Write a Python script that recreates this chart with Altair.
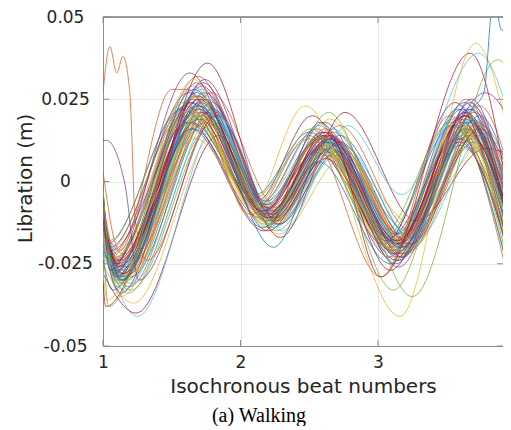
import altair as alt
import pandas as pd

# ---------------- data ----------------
palette = ["#0072BD", "#D95319", "#EDB120", "#7E2F8E", "#77AC30", "#4DBEEE", "#A2142F"]

x_start = 1.0
x_end = 3.97

y_start = [-0.010, -0.005, -0.015, -0.008, -0.020, -0.012, -0.003, -0.018, -0.007, -0.025,
           -0.011, -0.002, -0.016, -0.009, -0.022, -0.006, -0.013, -0.004, -0.019, -0.010,
           -0.014, -0.001, -0.017, -0.008, -0.021, -0.012, -0.006, -0.028, -0.011, -0.015,
           -0.003, -0.018, -0.009, -0.013, -0.030, -0.007, -0.016, -0.010, -0.004, -0.020,
           -0.012, -0.008, -0.014, -0.009, -0.017, -0.006, -0.013, -0.011, -0.010,
           -0.024, -0.016, -0.006, -0.019, -0.002, -0.023, -0.011, -0.008, -0.014, -0.027,
           -0.012, -0.005, -0.018, -0.009]

x_t1 = [1.10, 1.08, 1.14, 1.06, 1.18, 1.12, 1.05, 1.16, 1.09, 1.22,
        1.11, 1.04, 1.15, 1.07, 1.20, 1.10, 1.13, 1.06, 1.17, 1.09,
        1.12, 1.03, 1.19, 1.08, 1.14, 1.11, 1.07, 1.24, 1.10, 1.16,
        1.05, 1.13, 1.09, 1.15, 1.02, 1.08, 1.18, 1.11, 1.06, 1.20,
        1.12, 1.10, 1.14, 1.09, 1.13, 1.07, 1.12, 1.15, 1.10,
        1.07, 1.19, 1.08, 1.13, 1.04, 1.21, 1.11, 1.09, 1.15, 1.03,
        1.14, 1.06, 1.17, 1.10]
y_t1 = [-0.027, -0.024, -0.031, -0.022, -0.034, -0.029, -0.020, -0.026, -0.030, -0.037,
        -0.025, -0.021, -0.033, -0.028, -0.029, -0.023, -0.035, -0.026, -0.030, -0.027,
        -0.024, -0.019, -0.032, -0.022, -0.028, -0.031, -0.025, -0.040, -0.026, -0.029,
        -0.023, -0.027, -0.032, -0.024, -0.038, -0.028, -0.026, -0.030, -0.021, -0.033,
        -0.027, -0.024, -0.029, -0.026, -0.031, -0.025, -0.028, -0.027, -0.029,
        -0.033, -0.028, -0.023, -0.034, -0.018, -0.031, -0.026, -0.029, -0.022, -0.036,
        -0.030, -0.024, -0.032, -0.025]

x_p1 = [1.70, 1.66, 1.74, 1.62, 1.78, 1.72, 1.60, 1.76, 1.68, 1.82,
        1.71, 1.58, 1.75, 1.64, 1.80, 1.69, 1.73, 1.63, 1.77, 1.67,
        1.72, 1.57, 1.79, 1.66, 1.74, 1.70, 1.65, 1.84, 1.69, 1.76,
        1.61, 1.73, 1.68, 1.75, 1.64, 1.66, 1.78, 1.71, 1.62, 1.81,
        1.72, 1.69, 1.73, 1.68, 1.74, 1.65, 1.71, 1.75, 1.70,
        1.66, 1.79, 1.67, 1.72, 1.59, 1.81, 1.70, 1.68, 1.75, 1.63,
        1.74, 1.64, 1.77, 1.69]
y_p1 = [0.022, 0.025, 0.019, 0.027, 0.017, 0.028, 0.023, 0.021, 0.030, 0.015,
        0.024, 0.020, 0.026, 0.018, 0.022, 0.032, 0.020, 0.024, 0.019, 0.026,
        0.021, 0.022, 0.024, 0.019, 0.027, 0.017, 0.029, 0.014, 0.023, 0.025,
        0.021, 0.030, 0.020, 0.023, 0.016, 0.028, 0.020, 0.026, 0.018, 0.018,
        0.024, 0.022, 0.025, 0.021, 0.023, 0.024, 0.020, 0.022, 0.025,
        0.016, 0.027, 0.013, 0.029, 0.024, 0.021, 0.019, 0.027, 0.018, 0.022,
        0.031, 0.020, 0.023, 0.026]

x_t2 = [2.20, 2.18, 2.23, 2.14, 2.26, 2.21, 2.12, 2.24, 2.19, 2.28,
        2.20, 2.10, 2.24, 2.16, 2.27, 2.20, 2.22, 2.15, 2.25, 2.18,
        2.21, 2.11, 2.26, 2.17, 2.23, 2.20, 2.16, 2.29, 2.19, 2.24,
        2.13, 2.22, 2.18, 2.23, 2.17, 2.18, 2.25, 2.21, 2.14, 2.27,
        2.22, 2.19, 2.22, 2.19, 2.23, 2.17, 2.21, 2.24, 2.20,
        2.16, 2.27, 2.18, 2.21, 2.11, 2.28, 2.20, 2.19, 2.24, 2.15,
        2.23, 2.16, 2.25, 2.20]
y_t2 = [-0.011, -0.009, -0.013, -0.007, -0.015, -0.010, -0.006, -0.012, -0.008, -0.016,
        -0.012, -0.005, -0.014, -0.009, -0.011, -0.007, -0.013, -0.010, -0.009, -0.011,
        -0.008, -0.004, -0.013, -0.012, -0.010, -0.014, -0.006, -0.017, -0.010, -0.009,
        -0.008, -0.012, -0.013, -0.008, -0.015, -0.007, -0.011, -0.010, -0.011, -0.012,
        -0.009, -0.012, -0.011, -0.010, -0.012, -0.009, -0.013, -0.011, -0.010,
        -0.014, -0.008, -0.012, -0.009, -0.007, -0.013, -0.015, -0.006, -0.012, -0.011,
        -0.010, -0.008, -0.014, -0.011]

x_p2 = [2.62, 2.60, 2.66, 2.55, 2.70, 2.64, 2.52, 2.68, 2.61, 2.74,
        2.63, 2.50, 2.67, 2.58, 2.72, 2.62, 2.65, 2.56, 2.69, 2.60,
        2.64, 2.50, 2.71, 2.59, 2.66, 2.62, 2.57, 2.76, 2.61, 2.68,
        2.53, 2.65, 2.60, 2.67, 2.58, 2.59, 2.70, 2.63, 2.55, 2.73,
        2.64, 2.61, 2.65, 2.61, 2.66, 2.58, 2.64, 2.68, 2.63,
        2.57, 2.72, 2.60, 2.64, 2.51, 2.74, 2.62, 2.61, 2.67, 2.56,
        2.66, 2.57, 2.69, 2.62]
y_p2 = [0.012, 0.014, 0.010, 0.016, 0.008, 0.013, 0.020, 0.011, 0.015, 0.007,
        0.009, 0.013, 0.012, 0.010, 0.014, 0.016, 0.019, 0.012, 0.013, 0.010,
        0.014, 0.015, 0.009, 0.011, 0.013, 0.008, 0.017, 0.021, 0.012, 0.015,
        0.011, 0.010, 0.013, 0.016, 0.018, 0.014, 0.012, 0.011, 0.009, 0.010,
        0.012, 0.014, 0.013, 0.011, 0.012, 0.013, 0.010, 0.012, 0.014,
        0.006, 0.017, 0.009, 0.013, 0.016, 0.011, 0.007, 0.018, 0.008, 0.012,
        0.014, 0.013, 0.010, 0.015]

x_t3 = [3.15, 3.12, 3.18, 3.08, 3.22, 3.16, 3.06, 3.20, 3.13, 3.26,
        3.15, 3.03, 3.19, 3.10, 3.24, 3.14, 3.17, 3.09, 3.21, 3.12,
        3.16, 3.04, 3.23, 3.11, 3.18, 3.14, 3.10, 3.28, 3.13, 3.20,
        3.07, 3.17, 3.12, 3.19, 3.09, 3.11, 3.22, 3.15, 3.08, 3.25,
        3.16, 3.13, 3.17, 3.13, 3.18, 3.11, 3.15, 3.19, 3.14,
        3.09, 3.24, 3.12, 3.16, 3.05, 3.27, 3.14, 3.13, 3.19, 3.08,
        3.18, 3.10, 3.21, 3.14]
y_t3 = [-0.019, -0.021, -0.017, -0.023, -0.015, -0.024, -0.018, -0.020, -0.022, -0.013,
        -0.026, -0.016, -0.019, -0.021, -0.017, -0.023, -0.018, -0.020, -0.022, -0.019,
        -0.016, -0.019, -0.021, -0.024, -0.020, -0.017, -0.022, -0.012, -0.025, -0.018,
        -0.020, -0.023, -0.018, -0.016, -0.027, -0.021, -0.019, -0.022, -0.017, -0.020,
        -0.021, -0.019, -0.022, -0.020, -0.021, -0.018, -0.023, -0.020, -0.019,
        -0.025, -0.015, -0.021, -0.019, -0.017, -0.018, -0.024, -0.016, -0.022, -0.020,
        -0.023, -0.019, -0.021, -0.018]

x_p3 = [3.65, 3.62, 3.68, 3.58, 3.72, 3.66, 3.56, 3.70, 3.63, 3.76,
        3.65, 3.53, 3.69, 3.60, 3.74, 3.64, 3.67, 3.59, 3.71, 3.62,
        3.66, 3.54, 3.73, 3.61, 3.68, 3.64, 3.60, 3.78, 3.63, 3.70,
        3.57, 3.67, 3.62, 3.69, 3.59, 3.61, 3.72, 3.65, 3.58, 3.75,
        3.66, 3.63, 3.67, 3.63, 3.68, 3.61, 3.66, 3.69, 3.64,
        3.60, 3.74, 3.62, 3.66, 3.55, 3.77, 3.64, 3.63, 3.69, 3.58,
        3.68, 3.60, 3.71, 3.64]
y_p3 = [0.018, 0.020, 0.016, 0.022, 0.014, 0.019, 0.024, 0.012, 0.021, 0.011,
        0.015, 0.018, 0.023, 0.013, 0.020, 0.025, 0.017, 0.019, 0.016, 0.021,
        0.014, 0.017, 0.018, 0.015, 0.022, 0.012, 0.023, 0.010, 0.019, 0.021,
        0.016, 0.024, 0.014, 0.019, 0.012, 0.022, 0.015, 0.020, 0.013, 0.017,
        0.018, 0.020, 0.018, 0.017, 0.019, 0.018, 0.016, 0.019, 0.021,
        0.011, 0.023, 0.010, 0.022, 0.019, 0.014, 0.016, 0.024, 0.013, 0.018,
        0.025, 0.017, 0.018, 0.020]

y_end = [-0.012, -0.016, -0.008, -0.024, -0.002, -0.014, -0.028, -0.006, -0.018, 0.004,
         -0.013, -0.030, -0.009, -0.021, 0.000, -0.015, -0.011, -0.023, -0.005, -0.017,
         -0.012, -0.031, -0.003, -0.019, -0.010, -0.014, -0.022, 0.008, -0.016, -0.007,
         -0.026, -0.011, -0.018, -0.009, -0.024, -0.020, -0.004, -0.013, -0.025, 0.002,
         -0.012, -0.015, -0.010, -0.016, -0.008, -0.020, -0.013, -0.006, -0.014,
         -0.022, 0.001, -0.019, -0.012, -0.029, 0.005, -0.015, -0.017, -0.008, -0.025,
         -0.010, -0.022, -0.005, -0.014]

# unusual traces, point by point
spike_orange_x = [1.00, 1.05, 1.10, 1.145, 1.195, 1.235, 1.32, 1.82, 2.26, 2.70, 3.22, 3.72, 3.97]
spike_orange_y = [0.027, 0.041, 0.033, 0.038, 0.027, -0.012, -0.024, 0.021, -0.012, 0.011, -0.020, 0.017, -0.004]
high_purple_x = [1.00, 1.025, 1.16, 1.26, 1.83, 2.28, 2.72, 3.24, 3.74, 3.97]
high_purple_y = [0.0125, 0.0125, -0.001, -0.030, 0.020, -0.013, 0.012, -0.019, 0.016, 0.001]
early_orange_x = [1.00, 1.12, 1.50, 1.61, 2.08, 2.50, 3.02, 3.52, 3.97]
early_orange_y = [0.003, -0.021, 0.028, 0.028, -0.010, 0.014, -0.029, 0.020, -0.034]
tall_red_x = [1.00, 1.15, 1.76, 2.24, 2.66, 3.02, 3.67, 3.97]
tall_red_y = [-0.012, -0.028, 0.036, -0.011, 0.013, -0.029, 0.039, -0.010]
deep_yellow_x = [1.00, 1.08, 1.66, 2.05, 2.47, 3.16, 3.71, 3.97]
deep_yellow_y = [-0.008, -0.026, 0.031, -0.010, 0.023, -0.041, 0.042, 0.010]
lightblue_x = [1.00, 1.25, 1.85, 2.30, 2.78, 3.17, 3.73, 3.97]
lightblue_y = [-0.020, -0.041, 0.019, -0.015, 0.017, -0.004, 0.039, 0.018]
late_green_x = [1.00, 1.04, 1.66, 2.20, 2.64, 3.25, 3.87, 3.97]
late_green_y = [-0.015, -0.038, 0.026, -0.012, 0.021, -0.035, 0.037, 0.033]
low_green_x = [1.00, 1.12, 1.72, 2.21, 2.62, 3.11, 3.62, 3.97]
low_green_y = [-0.010, -0.030, 0.020, -0.010, 0.010, -0.033, 0.016, -0.016]
jump_blue_x = [1.00, 1.13, 1.70, 2.24, 2.64, 3.16, 3.68, 3.77, 3.84, 3.90, 3.97]
jump_blue_y = [-0.012, -0.030, 0.023, -0.020, 0.012, -0.020, 0.022, 0.027, 0.056, 0.046, 0.046]
peak_purple_x = [1.00, 1.05, 1.63, 2.15, 2.60, 3.12, 3.78, 3.97]
peak_purple_y = [-0.005, -0.027, 0.033, -0.009, 0.015, -0.022, 0.027, 0.018]

y_ticks = [-0.05, -0.025, 0.0, 0.025, 0.05]
x_ticks = [1, 2, 3]

# ---------------- build table ----------------
rows = []
for i in range(len(y_start)):
    xs = [x_start, x_t1[i], x_p1[i], x_t2[i], x_p2[i], x_t3[i], x_p3[i], x_end]
    ys = [y_start[i], y_t1[i], y_p1[i], y_t2[i], y_p2[i], y_t3[i], y_p3[i], y_end[i]]
    for k, (a, b) in enumerate(zip(xs, ys)):
        rows.append({"s": f"b{i:02d}", "x": a, "y": b, "o": k, "c": palette[i % 7]})

extras = [
    ("e1", palette[1], spike_orange_x, spike_orange_y),
    ("e2", palette[3], high_purple_x, high_purple_y),
    ("e3", palette[1], early_orange_x, early_orange_y),
    ("e4", palette[6], tall_red_x, tall_red_y),
    ("e5", palette[2], deep_yellow_x, deep_yellow_y),
    ("e6", palette[5], lightblue_x, lightblue_y),
    ("e7", palette[4], late_green_x, late_green_y),
    ("e8", palette[4], low_green_x, low_green_y),
    ("e9", palette[0], jump_blue_x, jump_blue_y),
    ("e10", palette[3], peak_purple_x, peak_purple_y),
]
for name, col, xs, ys in extras:
    for k, (a, b) in enumerate(zip(xs, ys)):
        rows.append({"s": name, "x": a, "y": b, "o": k, "c": col})

df = pd.DataFrame(rows)
df_y = pd.DataFrame({"y": y_ticks})
df_x = pd.DataFrame({"x": x_ticks})

W, H = 400, 329
FONT = "DejaVu Sans"
TXT = "#262626"
SPINE = "#8c8c8c"

xscale = alt.Scale(domain=[1, 1 + W / 137.5], nice=False, zero=False)
yscale = alt.Scale(domain=[-0.05, 0.05], nice=False, zero=False)

xaxis = alt.Axis(values=x_ticks, title="Isochronous beat numbers", grid=True,
                 gridColor="#e6e6e6", ticks=False, tickSize=0, domainColor=SPINE,
                 labelFont=FONT, labelFontSize=17, labelColor=TXT, labelPadding=8,
                 titleFont=FONT, titleFontSize=20, titleFontWeight="normal",
                 titleColor=TXT, titlePadding=6, labelFlush=False)
yaxis = alt.Axis(values=y_ticks, title="Libration (m)", grid=True,
                 gridColor="#e6e6e6", ticks=False, tickSize=0, domainColor=SPINE,
                 labelFont=FONT, labelFontSize=17, labelColor=TXT, labelPadding=38,
                 labelAlign="center", labelBaseline="middle",
                 labelExpr="datum.value < 0 ? '-' + format(-datum.value, '~g') : format(datum.value, '~g')",
                 titleFont=FONT, titleFontSize=20, titleFontWeight="normal",
                 titleColor=TXT, titleX=-78, titleY=161, titleBaseline="middle",
                 titleAlign="center", titleAngle=270)

lines = alt.Chart(df).mark_line(interpolate="monotone", strokeWidth=0.9,
                                opacity=0.8, clip=True).encode(
    x=alt.X("x:Q", scale=xscale, axis=xaxis),
    y=alt.Y("y:Q", scale=yscale, axis=yaxis),
    detail="s:N",
    order="o:Q",
    color=alt.Color("c:N", scale=None),
)

left_ticks = alt.Chart(df_y).mark_rule(color=SPINE).encode(
    y=alt.Y("y:Q", scale=yscale, axis=yaxis), x=alt.value(0), x2=alt.value(6))
right_ticks = alt.Chart(df_y).mark_rule(color=SPINE).encode(
    y=alt.Y("y:Q", scale=yscale, axis=yaxis), x=alt.value(W - 6), x2=alt.value(W))
bottom_ticks = alt.Chart(df_x).mark_rule(color=SPINE).encode(
    x=alt.X("x:Q", scale=xscale, axis=xaxis), y=alt.value(H), y2=alt.value(H - 6))
top_ticks = alt.Chart(df_x).mark_rule(color=SPINE).encode(
    x=alt.X("x:Q", scale=xscale, axis=xaxis), y=alt.value(0), y2=alt.value(6))
top_spine = alt.Chart(df_x).mark_rule(color=SPINE).encode(
    x=alt.value(0), x2=alt.value(W), y=alt.value(0))

chart = alt.layer(lines, left_ticks, right_ticks, bottom_ticks, top_ticks, top_spine).properties(
    width=W, height=H,
    autosize=alt.AutoSizeParams(type="none"),
    padding={"left": 95, "top": 9, "right": 0, "bottom": 80},
    title=alt.TitleParams(text="(a) Walking", orient="bottom", font="Liberation Serif",
                          fontSize=20, fontWeight="normal", color="black", dx=-44, offset=10),
).configure_view(stroke=None)

chart.save("out.html", embed_options={"renderer": "svg", "actions": False})
